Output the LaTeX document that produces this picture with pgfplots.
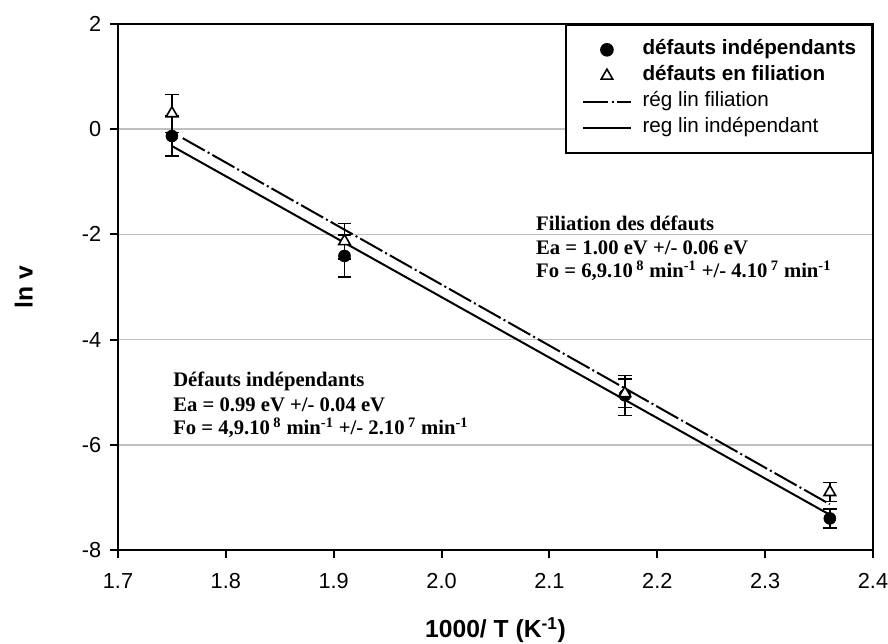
\documentclass[border=0pt]{standalone}
\usepackage{fontspec}
\setmainfont{Liberation Sans}
\newfontfamily\timesfont{Liberation Serif}
\usepackage{pgfplots}
\pgfplotsset{compat=1.18}

\pgfplotsset{
    longimg/.style={
        legend image code/.code={
            \draw[mark repeat=2, mark phase=2, ##1]
                plot coordinates {(0pt,0pt) (18pt,0pt) (36pt,0pt)};
        }
    },
}

\begin{document}
\begin{tikzpicture}
\path[use as bounding box] (-88.5pt,-69.75pt) rectangle (577.5pt,412.5pt);
\begin{axis}[
    at={(0,0)}, anchor=south west,
    scale only axis,
    width=566.25pt, height=394.5pt,
    xmin=1.7, xmax=2.4,
    ymin=-8, ymax=2,
    xtick={1.7,1.8,1.9,2.0,2.1,2.2,2.3,2.4},
    ytick={-8,-6,-4,-2,0,2},
    tick pos=left,
    tick align=outside,
    major tick length=6pt,
    tick style={black, line width=1.5pt},
    axis line style={line width=1.5pt},
    ymajorgrids=true,
    major grid style={color=black!25, line width=1.2pt},
    /pgf/number format/assume math mode=true,
    ticklabel style={font=\fontsize{16.3}{19}\selectfont},
    xticklabel style={yshift=-8pt, /pgf/number format/.cd, fixed, fixed zerofill, precision=1},
    yticklabel style={xshift=-3pt},
    xlabel={\textbf{1000/ T (K\textsuperscript{-1})}},
    ylabel={\textbf{ln v}},
    label style={font=\fontsize{18.5}{21}\selectfont},
    xlabel style={at={(axis description cs:0.5,-0.152)}, anchor=center},
    ylabel style={at={(axis description cs:-0.125,0.5)}, anchor=center},
    legend style={at={(1,1)}, anchor=north east, draw=black, line width=1.2pt,
        font=\fontsize{15.5}{18}\selectfont,
        inner xsep=12pt, inner ysep=9pt, row sep=0pt,
        nodes={inner sep=0pt, text height=13pt, text depth=6.5pt},
        /tikz/every odd column/.append style={column sep=8pt}},
    legend cell align=left,
    longimg,
]

% defauts independants
\addplot[black, only marks, mark=*, mark size=4.5pt, longimg,
    error bars/.cd, y dir=both, y explicit,
    error bar style={line width=1.2pt, black},
    error mark options={rotate=90, line width=1.2pt, mark size=5pt, black}]
    coordinates {
        (1.75,-0.13) +- (0,0.38)
        (1.91,-2.41) +- (0,0.40)
        (2.17,-5.06) +- (0,0.38)
        (2.36,-7.40) +- (0,0.18)
    };
\addlegendentry{\textbf{défauts indépendants}}

% defauts en filiation
\addplot[black, only marks, mark=triangle*, mark size=5pt, longimg,
    mark options={fill=white, draw=black, line width=1.2pt},
    error bars/.cd, y dir=both, y explicit,
    error bar style={line width=1.2pt, black},
    error mark options={rotate=90, line width=1.2pt, mark size=5pt, black}]
    coordinates {
        (1.75,0.30) +- (0,0.36)
        (1.91,-2.13) +- (0,0.34)
        (2.17,-5.02) +- (0,0.27)
        (2.36,-6.90) +- (0,0.18)
    };
\addlegendentry{\textbf{défauts en filiation}}

% regressions
\addplot[black, line width=1.5pt, dash pattern=on 19pt off 2.5pt on 1.5pt off 2.5pt]
    coordinates {(1.76,-0.17) (2.36,-7.13)};
\addlegendentry{rég lin filiation}

\addplot[black, line width=1.5pt]
    coordinates {(1.75,-0.32) (2.36,-7.33)};
\addlegendentry{reg lin indépendant}

% annotations
\begin{scope}[every node/.style={anchor=base west, inner sep=0pt,
        font=\timesfont\bfseries\fontsize{15.5}{18}\selectfont}]
\node at (axis cs:2.0875,-1.92) {Filiation des défauts};
\node at (axis cs:2.0875,-2.38) {Ea = 1.00 eV +/- 0.06 eV};
\node at (axis cs:2.0875,-2.81) {Fo = 6,9.10\,\textsuperscript{8} min\textsuperscript{-1} +/- 4.10\,\textsuperscript{7} min\textsuperscript{-1}};
\node at (axis cs:1.751,-4.90) {Défauts indépendants};
\node at (axis cs:1.751,-5.36) {Ea = 0.99 eV +/- 0.04 eV};
\node at (axis cs:1.751,-5.80) {Fo = 4,9.10\,\textsuperscript{8} min\textsuperscript{-1} +/- 2.10\,\textsuperscript{7} min\textsuperscript{-1}};
\end{scope}
\end{axis}
\end{tikzpicture}
\end{document}
